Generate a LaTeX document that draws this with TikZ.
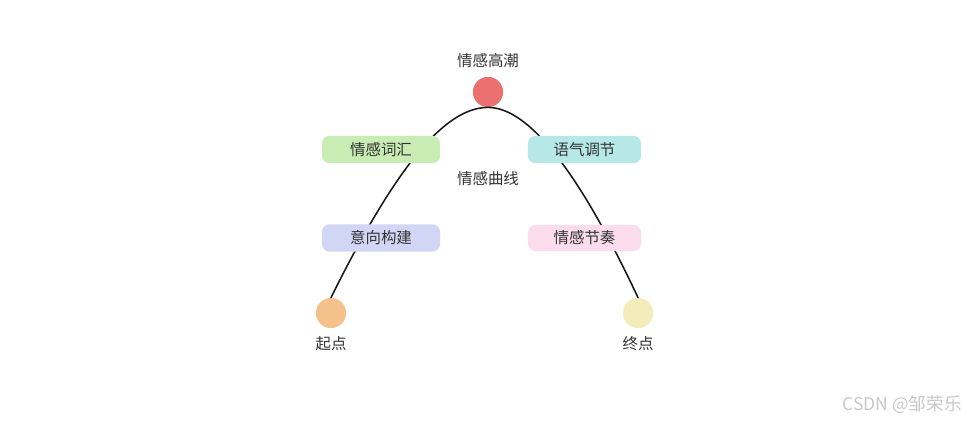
\documentclass[tikz,border=0pt]{standalone}
\usepackage{fontspec}
\setmainfont{Noto Sans CJK SC}
\usetikzlibrary{positioning, calc}
\definecolor{textBase}{RGB}{ 51, 51, 51}
\definecolor{peakFill}{RGB}{236,112,112}
\definecolor{startFill}{RGB}{244,192,140}
\definecolor{endFill}{RGB}{245,236,188}
\definecolor{wordFill}{RGB}{200,236,180}
\definecolor{toneFill}{RGB}{182,232,232}
\definecolor{imageFill}{RGB}{210,214,245}
\definecolor{rhythmFill}{RGB}{250,220,236}
\definecolor{markGrey}{RGB}{200,200,200}
\tikzset{
    dot/.style={
        circle, draw=none, minimum size=21.5pt, inner sep=0pt,
    },
    tagbox/.style={
        rounded corners=5.5pt, draw=none,
        minimum width=84pt, minimum height=19.5pt, inner sep=0pt,
        font=\fontsize{11}{13}\selectfont, text=textBase,
    },
    dotlab/.style={
        font=\fontsize{11}{13}\selectfont, text=textBase, inner sep=0pt,
    },
    curve/.style={
        line width=1.1pt, draw=black!90, line cap=round,
    },
}

\begin{document}
\begin{tikzpicture}[x=0.025cm, y=-0.025cm]

% ============================================================
%   Frame of the picture
% ============================================================
\useasboundingbox (0,0) rectangle (967,423);

% ============================================================
%   Points on the curve: start, climax, end
% ============================================================
\node[dot, fill=peakFill]  (peak)  at (488, 92)  {};
\node[dot, fill=startFill] (start) at (331, 313) {};
\node[dot, fill=endFill]   (stop)  at (638, 313) {};

\node[dotlab] (peakLab)  at (488, 61)  {情感高潮};
\node[dotlab] (startLab) at (331, 344) {起点};
\node[dotlab] (stopLab)  at (638, 344) {终点};

% ============================================================
%   The curve (drawn first, the boxes sit on top of it)
% ============================================================
\draw[curve] (start.north)
    .. controls +(62,-125) and +(-45,0) .. (peak.south)
    .. controls +(40,0) and +(-60,-128) .. (stop.north);

\node[dotlab] (curveLab) at (488, 179) {情感曲线};

% ============================================================
%   Boxes along the two slopes
% ============================================================
\node[tagbox, fill=wordFill]   (word)   at (381, 149.5) {情感词汇};
\node[tagbox, fill=toneFill, minimum width=80.5pt]
                               (tone)   at (584.5, 149.5) {语气调节};
\node[tagbox, fill=imageFill]  (image)  at (381, 238) {意向构建};
\node[tagbox, fill=rhythmFill, minimum width=80.5pt, minimum height=18.5pt]
                               (rhythm) at (584.5, 238) {情感节奏};

% ============================================================
%   Watermark
% ============================================================
\node[font=\fontsize{12.5}{14}\selectfont, text=markGrey,
      anchor=east, inner sep=0pt] (mark) at (962, 405) {CSDN @邹荣乐};

\end{tikzpicture}
\end{document}
